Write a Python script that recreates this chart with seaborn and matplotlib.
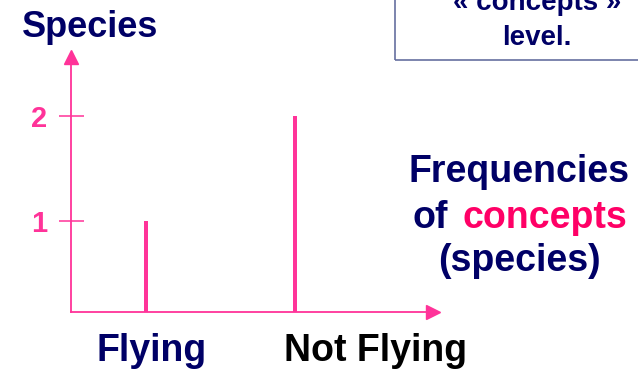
import matplotlib
matplotlib.use("Agg")
import matplotlib.pyplot as plt
import seaborn as sns
import pandas as pd
from matplotlib.patches import Rectangle

# data
categories = ['Flying', 'Not Flying']
frequencies = [1, 2]
yticks = [1, 2]

pink = '#FF3399'
navy = '#000066'
hot = '#FF0066'

sns.set_style('white')
plt.rcParams['font.family'] = ['Liberation Sans', 'DejaVu Sans']
plt.rcParams['font.weight'] = 'bold'

df = pd.DataFrame({'cat': categories, 'freq': frequencies})

fig = plt.figure(figsize=(6.38, 3.70), dpi=100)
W, H = 638, 370
ax = fig.add_axes([71 / W, 1 - 312 / H, (433 - 71) / W, (312 - 57) / H])

sns.barplot(data=df, x='cat', y='freq', color=pink, width=0.028,
            saturation=1, linewidth=0, ax=ax)

ax.set_xlim(-0.503, 1.926)
ax.set_ylim(0.133, 2.562)
ax.set_xticks([])
ax.set_yticks(yticks)
ax.set_yticklabels([str(t) for t in yticks], color=pink, fontsize=21,
                   fontweight='bold')
ax.tick_params(axis='y', direction='inout', length=18, width=1.1,
               color=pink, pad=8, left=True)
ax.set_xlabel('')
ax.set_ylabel('')
for s in ['top', 'right']:
    ax.spines[s].set_visible(False)
for s in ['left', 'bottom']:
    ax.spines[s].set_color(pink)
    ax.spines[s].set_linewidth(1.3)

# arrow heads
ax.plot([0], [1], marker='^', color=pink, markersize=10,
        transform=ax.transAxes, clip_on=False)
ax.plot([1], [0], marker='>', color=pink, markersize=10,
        transform=ax.transAxes, clip_on=False)

def fx(px):
    return px / W

def fy(py):
    return 1 - py / H

fig.text(fx(22), fy(37), 'Species', color=navy, fontsize=26,
         fontweight='bold', ha='left', va='baseline')

fig.text(fx(152), fy(361), 'Flying', color=navy, fontsize=27,
         fontweight='bold', ha='center', va='baseline')
fig.text(fx(376), fy(361), 'Not Flying', color='black', fontsize=27,
         fontweight='bold', ha='center', va='baseline')

fig.text(fx(519), fy(182), 'Frequencies', color=navy, fontsize=27,
         fontweight='bold', ha='center', va='baseline')
fig.text(fx(413), fy(228), 'of', color=navy, fontsize=27,
         fontweight='bold', ha='left', va='baseline')
fig.text(fx(462), fy(228), 'concepts', color=hot, fontsize=27,
         fontweight='bold', ha='left', va='baseline')
fig.text(fx(519), fy(271), '(species)', color=navy, fontsize=27,
         fontweight='bold', ha='center', va='baseline')

# box at top right
fig.patches.append(Rectangle((fx(395), fy(60)), fx(260), 80 / H,
                             transform=fig.transFigure, fill=False,
                             edgecolor='#6670A0', linewidth=1.2))
fig.text(fx(537), fy(10), '« concepts »', color=navy, fontsize=20,
         fontweight='bold', ha='center', va='baseline')
fig.text(fx(537), fy(45), 'level.', color=navy, fontsize=20,
         fontweight='bold', ha='center', va='baseline')

fig.savefig('out.png', dpi=100)
